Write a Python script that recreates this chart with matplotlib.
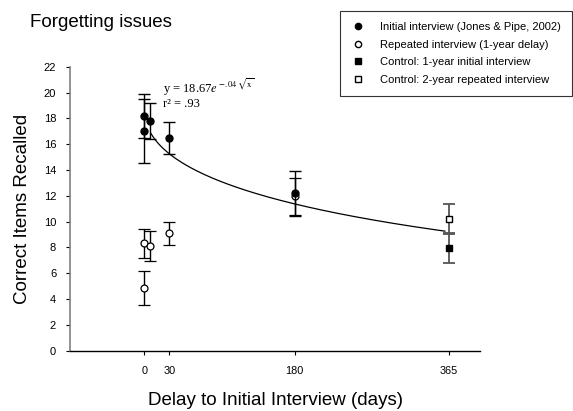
import numpy as np
import matplotlib
matplotlib.use('Agg')
import matplotlib.pyplot as plt
from matplotlib.lines import Line2D

plt.rcParams['font.family'] = ['Liberation Sans', 'DejaVu Sans']
plt.rcParams['mathtext.fontset'] = 'stix'

# Initial interview (Jones & Pipe, 2002)
init_days = [0, 0, 7, 30, 180]
init_mean = [18.2, 17.0, 17.8, 16.45, 12.2]
init_err = [1.7, 2.5, 1.4, 1.25, 1.75]

# Repeated interview (1-year delay)
rep_days = [0, 7, 0, 30, 180]
rep_mean = [8.3, 8.1, 4.85, 9.1, 11.95]
rep_err = [1.1, 1.15, 1.35, 0.9, 1.45]

# Controls
ctrl1_days = [365]
ctrl1_mean = [7.95]
ctrl1_err = [1.15]
ctrl2_days = [365]
ctrl2_mean = [10.2]
ctrl2_err = [1.15]

# fitted curve y = a * exp(-b * sqrt(x))
fit_a = 18.67
fit_b = 0.037
fit_start, fit_end = 8, 360

xticks = [0, 30, 180, 365]
yticks = list(range(0, 23, 2))

fig = plt.figure(figsize=(5.73, 4.11), dpi=100)
ax = fig.add_axes([0.1222, 0.1472, 0.7155, 0.6905])

xs = np.linspace(fit_start, fit_end, 300)
ax.plot(xs, fit_a * np.exp(-fit_b * np.sqrt(xs)), color='black', lw=0.9, zorder=2)

ax.errorbar(ctrl1_days, ctrl1_mean, yerr=ctrl1_err, fmt='s', ms=4.5, mfc='black', mec='black',
            ecolor='#555555', elinewidth=1.3, capsize=4, capthick=1.3, zorder=3)
ax.errorbar(ctrl2_days, ctrl2_mean, yerr=ctrl2_err, fmt='s', ms=4.5, mfc='white', mec='black',
            ecolor='#555555', elinewidth=1.3, capsize=4, capthick=1.3, zorder=3)
ax.errorbar(rep_days, rep_mean, yerr=rep_err, fmt='o', ms=5, mfc='white', mec='black', mew=0.9,
            ecolor='black', elinewidth=1.0, capsize=4, capthick=1.0, zorder=4)
ax.errorbar(init_days, init_mean, yerr=init_err, fmt='o', ms=5, mfc='black', mec='black',
            ecolor='black', elinewidth=1.0, capsize=4, capthick=1.0, zorder=5)

ax.set_xlim(-89, 402)
ax.set_ylim(0, 22)
ax.set_xticks(xticks)
ax.set_yticks(yticks)
ax.tick_params(axis='both', direction='out', length=3, width=0.8, color='black')
ax.tick_params(axis='x', pad=8.5, labelsize=7.8)
ax.tick_params(axis='y', pad=7, labelsize=8)
ax.spines['top'].set_visible(False)
ax.spines['right'].set_visible(False)
ax.spines['left'].set_color('#808080')
ax.spines['left'].set_linewidth(1.2)
ax.spines['bottom'].set_linewidth(1.0)

ax.set_xlabel('Delay to Initial Interview (days)', fontsize=13.5, labelpad=11)
ax.set_ylabel('Correct Items Recalled', fontsize=13.5, labelpad=9)

fig.text(0.052, 0.934, 'Forgetting issues', fontsize=13.5)

ax.text(22, 19.95, r'y = 18.67$\mathit{e}^{\,\mathrm{-.04}\,\sqrt{\mathrm{x}}}$',
        fontsize=9, family='Liberation Serif', va='baseline')
ax.text(22, 18.9, 'r² = .93', fontsize=9, family='Liberation Serif', va='baseline')

handles = [
    Line2D([], [], ls='none', marker='o', ms=4.5, mfc='black', mec='black'),
    Line2D([], [], ls='none', marker='o', ms=4.5, mfc='white', mec='black'),
    Line2D([], [], ls='none', marker='s', ms=4.2, mfc='black', mec='black'),
    Line2D([], [], ls='none', marker='s', ms=4.2, mfc='white', mec='black'),
]
labels = ['Initial interview (Jones & Pipe, 2002)', 'Repeated interview (1-year delay)',
          'Control: 1-year initial interview', 'Control: 2-year repeated interview']
leg = fig.legend(handles, labels, loc='upper right', bbox_to_anchor=(0.999, 0.973),
                 fontsize=8, frameon=True, fancybox=False, edgecolor='black',
                 handlelength=1.2, handletextpad=1.4, labelspacing=0.68, borderpad=1.0,
                 borderaxespad=0)
leg.get_frame().set_linewidth(0.8)
leg._legend_box.align = 'left'

fig.savefig('out.png', dpi=100)
